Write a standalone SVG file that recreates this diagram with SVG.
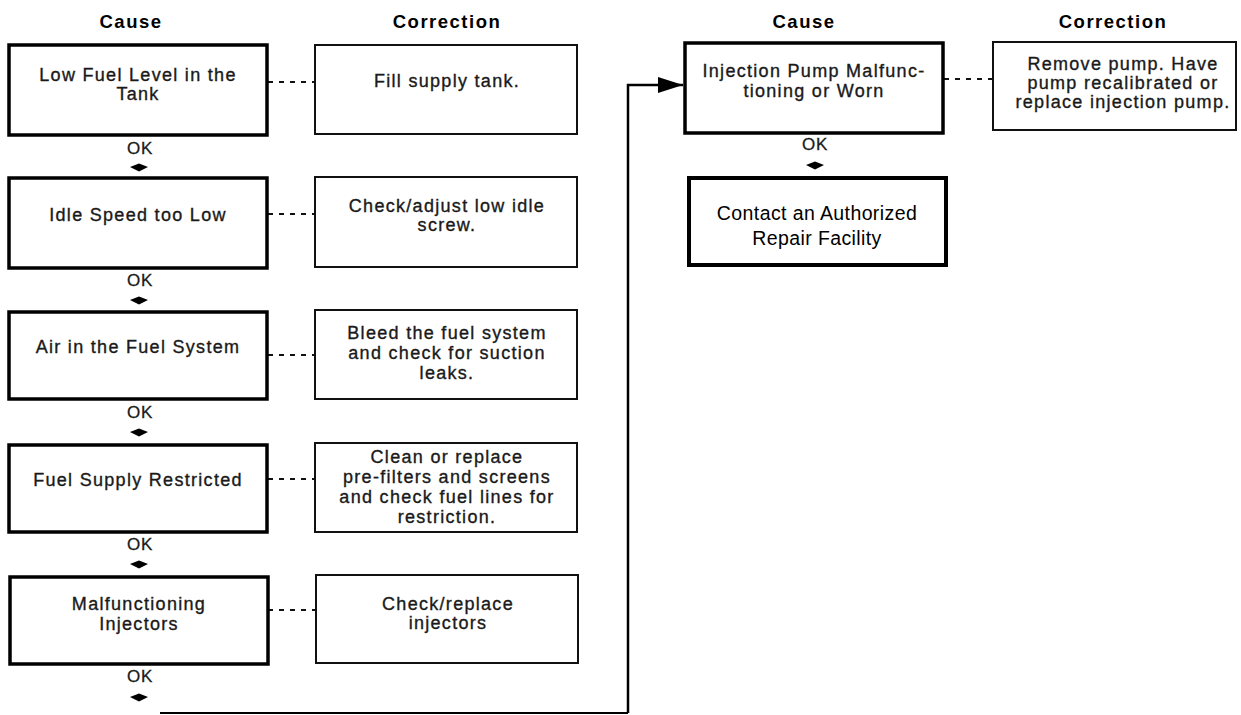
<svg xmlns="http://www.w3.org/2000/svg" width="1241" height="715" viewBox="0 0 1241 715">
<defs>
<style>
.hdr{font-family:"Liberation Sans",Arial,sans-serif;font-weight:bold;font-size:18.5px;letter-spacing:1.5px;text-anchor:middle;fill:#000}
.t{font-family:"Liberation Sans",Arial,sans-serif;font-size:18px;letter-spacing:1.3px;text-anchor:middle;fill:#1a1a1a;stroke:#1a1a1a;stroke-width:0.35}
.t2{font-family:"Liberation Sans",Arial,sans-serif;font-size:19.5px;letter-spacing:0.4px;text-anchor:middle;fill:#000}
.ok{font-family:"Liberation Sans",Arial,sans-serif;font-size:17px;letter-spacing:0.8px;text-anchor:middle;fill:#1a1a1a;stroke:#1a1a1a;stroke-width:0.3}
.cause{fill:#fff;stroke:#000;stroke-width:3.5}
.corr{fill:#fff;stroke:#111;stroke-width:2}
.dash{stroke:#111;stroke-width:2;stroke-dasharray:5,6;fill:none}
.line{stroke:#000;fill:none}
.tip{fill:#000}
</style>
<marker id="arr" markerWidth="26" markerHeight="16" refX="25" refY="8" orient="auto" markerUnits="userSpaceOnUse">
<path d="M0,0 L25,8 L0,16 Z" fill="#000"/>
</marker>
</defs>
<rect width="1241" height="715" fill="#fff"/>

<text class="hdr" x="131" y="28">Cause</text>
<text class="hdr" x="447" y="28">Correction</text>
<text class="hdr" x="804" y="28">Cause</text>
<text class="hdr" x="1113" y="28">Correction</text>

<g id="connectors">
<line class="dash" x1="268" y1="82" x2="315" y2="82"/>
<line class="dash" x1="268" y1="214" x2="315" y2="214"/>
<line class="dash" x1="268" y1="355" x2="315" y2="355"/>
<line class="dash" x1="268" y1="479" x2="315" y2="479"/>
<line class="dash" x1="268" y1="610" x2="315" y2="610"/>
<line class="dash" x1="944" y1="79" x2="993" y2="79"/>
<path class="line" stroke-width="2" d="M160,713 L628,713" />
<path class="line" stroke-width="2.5" d="M628,713 L628,85 L683,85" marker-end="url(#arr)"/>
<g id="ok-arrows">
<text class="ok" x="140" y="154">OK</text>
<path class="tip" d="M130,167 L139,163.5 L148,167 L139,171.5 Z"/>
<text class="ok" x="140" y="286">OK</text>
<path class="tip" d="M130,300 L139,296.5 L148,300 L139,304.5 Z"/>
<text class="ok" x="140" y="418">OK</text>
<path class="tip" d="M130,432 L139,428.5 L148,432 L139,436.5 Z"/>
<text class="ok" x="140" y="550">OK</text>
<path class="tip" d="M130,564 L139,560.5 L148,564 L139,568.5 Z"/>
<text class="ok" x="140" y="682">OK</text>
<path class="tip" d="M130,697 L139,693.5 L148,697 L139,701.5 Z"/>
<text class="ok" x="815" y="150">OK</text>
<path class="tip" d="M806,165 L815,161.5 L824,165 L815,169.5 Z"/>
</g>
</g>

<g id="cause1"><rect class="cause" x="9" y="45" width="258" height="90"/>
<text class="t" x="138" y="81">Low Fuel Level in the</text><text class="t" x="138" y="100">Tank</text></g>
<g id="corr1"><rect class="corr" x="315" y="45" width="262" height="89"/>
<text class="t" x="447" y="87">Fill supply tank.</text></g>

<g id="cause2"><rect class="cause" x="9" y="178" width="258" height="90"/>
<text class="t" x="138" y="221">Idle Speed too Low</text></g>
<g id="corr2"><rect class="corr" x="315" y="177" width="262" height="90"/>
<text class="t" x="447" y="212">Check/adjust low idle</text><text class="t" x="447" y="231">screw.</text></g>

<g id="cause3"><rect class="cause" x="9" y="312" width="258" height="87"/>
<text class="t" x="138" y="353">Air in the Fuel System</text></g>
<g id="corr3"><rect class="corr" x="315" y="310" width="262" height="89"/>
<text class="t" x="447" y="339">Bleed the fuel system</text><text class="t" x="447" y="359">and check for suction</text><text class="t" x="447" y="379">leaks.</text></g>

<g id="cause4"><rect class="cause" x="9" y="445" width="258" height="87"/>
<text class="t" x="138" y="486">Fuel Supply Restricted</text></g>
<g id="corr4"><rect class="corr" x="315" y="443" width="262" height="89"/>
<text class="t" x="447" y="463">Clean or replace</text><text class="t" x="447" y="483">pre-filters and screens</text><text class="t" x="447" y="503">and check fuel lines for</text><text class="t" x="447" y="523">restriction.</text></g>

<g id="cause5"><rect class="cause" x="10" y="577" width="258" height="87"/>
<text class="t" x="139" y="610">Malfunctioning</text><text class="t" x="139" y="630">Injectors</text></g>
<g id="corr5"><rect class="corr" x="316" y="575" width="262" height="88"/>
<text class="t" x="448" y="610">Check/replace</text><text class="t" x="448" y="629">injectors</text></g>

<g id="cause6"><rect class="cause" x="685" y="43" width="258" height="90"/>
<text class="t" x="814" y="77">Injection Pump Malfunc-</text><text class="t" x="814" y="97">tioning or Worn</text></g>
<g id="corr6"><rect class="corr" x="993" y="42" width="243" height="88"/>
<text class="t" x="1123" y="70">Remove pump. Have</text><text class="t" x="1123" y="89">pump recalibrated or</text><text class="t" x="1123" y="108">replace injection pump.</text></g>

<g id="contact"><rect fill="#fff" stroke="#000" stroke-width="4" x="689" y="178" width="257" height="87"/>
<text class="t2" x="817" y="220">Contact an Authorized</text><text class="t2" x="817" y="245">Repair Facility</text></g>
</svg>
